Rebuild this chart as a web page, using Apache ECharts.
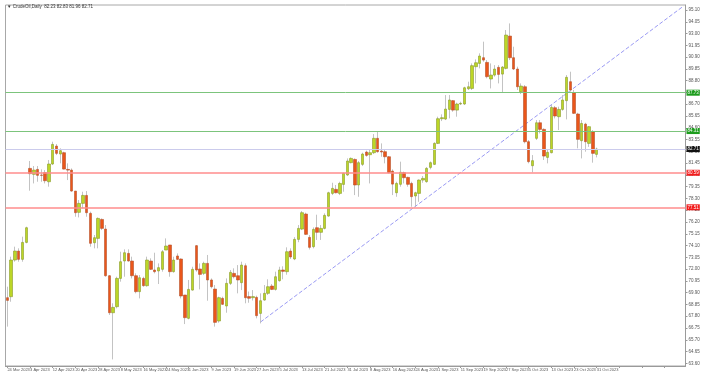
<!DOCTYPE html>
<html>
<head>
<meta charset="utf-8">
<script src="https://cdn.jsdelivr.net/npm/echarts@6/dist/echarts.min.js"></script>
<style>
html,body{margin:0;padding:0;background:#fff;}
#c{width:708px;height:373px;}
</style>
</head>
<body>
<div id="c"></div>
<script>
// ---- Data (CrudeOil, Daily) ----
const firstDay = '2023-03-24';
const lastDay = '2023-10-31';
const skippedDays = ['2023-04-07'];
const extraSlots = 23; // empty space right of last bar (chart shift)

const opens = [69.45,69.54,72.81,73.61,72.87,74.38,80.98,80.45,80.89,80.39,80.60,79.79,81.37,82.97,82.26,82.38,80.89,80.83,78.96,77.06,
77.86,78.57,76.97,74.35,74.74,76.43,75.57,71.41,68.11,68.65,71.17,72.72,73.40,72.72,71.41,69.99,71.17,70.52,72.72,71.92,
71.83,71.98,73.70,74.15,71.77,73.17,72.90,69.69,67.61,70.13,74.09,72.01,71.62,72.51,71.03,70.22,67.37,69.39,68.71,70.73,
71.62,71.41,70.79,72.30,69.55,69.45,69.48,68.05,69.24,69.84,70.49,70.19,70.97,71.92,71.77,73.61,72.90,74.65,75.57,76.91,
74.83,74.00,75.69,75.28,75.63,76.73,78.75,79.11,78.75,79.55,80.39,81.49,81.78,79.50,81.34,82.44,82.20,82.38,83.66,82.53,
82.47,82.02,80.74,78.81,79.56,80.60,80.18,79.64,78.52,78.75,79.94,79.80,81.07,81.34,83.21,85.41,85.38,86.24,87.02,86.18,
86.72,86.72,88.08,88.11,90.05,90.34,90.85,90.43,88.95,89.30,89.99,89.39,89.90,92.78,90.85,89.84,87.82,88.26,83.36,81.22,
83.66,85.05,84.46,81.96,82.38,86.39,85.59,86.24,87.02,88.71,87.73,85.83,83.45,84.93,83.21,84.25,82.23];
const closes = [69.21,72.81,73.61,72.87,74.38,75.69,80.51,80.83,80.36,80.36,79.88,81.37,83.12,82.32,82.56,80.92,80.83,78.96,77.03,77.86,
78.57,77.03,74.30,74.80,76.52,75.63,71.41,68.11,68.59,71.17,72.66,73.46,72.72,71.41,69.99,71.23,70.52,72.81,71.98,71.77,
72.13,73.55,74.06,71.77,72.81,72.87,69.60,67.67,70.19,71.98,71.92,71.53,72.51,71.03,70.43,67.25,69.45,68.86,70.73,71.71,
71.32,71.03,72.36,69.45,69.40,69.55,67.85,69.18,69.84,70.43,70.19,71.32,71.92,71.80,73.55,73.08,74.65,75.63,77.03,75.10,
73.94,75.54,75.28,75.63,76.79,78.81,79.20,78.81,79.64,80.54,81.64,81.87,79.50,81.49,82.26,82.14,82.38,83.66,82.47,82.44,
82.02,80.60,79.58,79.64,80.63,80.15,79.56,78.46,78.81,79.94,80.09,80.98,81.49,83.21,85.41,85.50,86.27,87.08,86.18,86.72,
86.78,88.17,88.26,90.14,90.40,91.00,90.64,89.16,89.30,89.84,89.36,90.02,92.87,90.85,89.84,88.26,88.32,83.36,81.58,81.67,
85.05,84.46,82.08,82.41,86.42,85.65,86.24,87.08,89.10,87.97,85.89,83.57,84.99,83.36,84.70,82.32,82.71];
const lows = [66.87,69.09,72.66,72.66,72.66,74.30,78.99,79.64,79.79,79.79,79.64,79.35,81.28,82.17,81.43,80.89,79.94,78.90,76.67,76.61,
77.42,76.67,74.00,73.85,73.85,75.48,71.32,67.91,63.95,68.50,70.88,71.32,72.66,71.17,69.84,69.39,70.43,70.43,71.92,71.62,
70.67,71.77,73.70,71.32,71.68,72.81,69.39,67.10,67.52,70.08,71.77,70.19,71.47,69.18,70.28,66.87,67.22,68.80,68.11,70.58,
71.17,69.84,70.13,68.95,69.00,69.20,67.61,67.16,69.18,69.69,70.13,70.08,70.88,71.09,71.50,72.90,72.80,74.40,75.48,75.04,
73.75,73.85,74.60,74.60,75.54,76.67,78.60,78.75,78.60,78.90,80.30,81.43,78.60,78.45,81.19,82.02,79.64,82.26,82.38,82.02,
81.43,80.54,78.60,78.45,79.35,79.64,79.35,77.56,77.56,78.00,79.70,79.70,80.90,81.28,83.15,85.20,85.29,85.44,86.03,85.59,
86.63,86.63,87.97,87.97,88.56,89.90,90.49,89.01,88.11,89.16,88.56,87.73,89.81,90.64,89.75,87.97,87.61,83.21,81.43,80.63,
83.51,84.10,81.73,81.43,82.32,85.44,84.40,86.12,85.35,87.82,85.83,82.77,81.87,82.47,82.90,81.49,81.96];
const highs = [70.43,73.11,74.00,73.85,74.89,75.78,81.64,81.19,81.19,80.89,80.83,81.73,83.36,83.15,82.77,82.47,81.43,80.98,78.96,78.16,
78.90,78.96,77.12,75.04,76.61,76.52,75.93,71.47,68.95,71.32,73.55,73.76,73.76,73.11,71.62,71.47,71.32,73.11,72.96,73.46,
72.51,73.70,74.74,74.15,73.11,73.40,72.96,69.69,71.03,72.21,74.15,72.51,72.66,73.26,71.17,70.58,69.54,69.54,71.17,71.92,
72.07,72.36,72.66,72.51,70.00,70.13,69.63,69.84,70.58,71.09,70.67,71.77,72.21,72.25,73.94,73.85,74.85,75.93,77.18,77.03,
75.04,75.72,76.85,75.93,76.97,78.90,79.70,79.50,79.79,80.60,81.87,81.96,81.87,81.64,82.38,82.56,82.62,84.04,84.25,83.21,
82.62,82.08,80.89,79.79,81.58,80.69,80.24,79.79,78.90,80.00,80.30,81.10,81.60,83.31,85.59,85.80,87.52,87.52,87.08,86.84,
86.93,88.26,88.71,90.34,90.70,91.24,92.28,90.64,90.34,90.19,90.19,90.11,93.32,93.91,91.83,90.05,88.56,88.41,83.51,82.17,
85.29,85.29,84.55,82.62,86.63,86.54,86.48,87.52,89.30,89.60,87.97,85.94,85.29,85.05,84.76,84.40,82.83];

const yTickLabels = ['63.60','64.65','65.70','66.75','67.80','68.85','69.90','70.95','72.00','73.05','74.10',
'75.15','76.20','77.25','78.30','79.35','80.40','81.45','82.50','83.55','84.60','85.65','86.70','87.75',
'88.80','89.85','90.90','91.95','93.00','94.05','95.10'];

const levelValues = [87.73, 84.31, 82.71, 80.59, 77.51];
const levelLineColors = ['#7cc47c', '#7cc47c', '#cbcbec', '#ff8c8c', '#ff8c8c'];
const levelBoxColors = ['#1c9c1c', '#1c9c1c', '#111111', '#f21c1c', '#f21c1c'];
const levelWidths = [1, 1, 1.2, 1.5, 1.5];

const trendStart = [67, 67.28];
const trendEnd = [179, 95.46];

const titleText = 'CrudeOil,Daily  82.23 82.83 81.96 82.71';

// ---- build categories ----
const MONTHS = ['Jan','Feb','Mar','Apr','May','Jun','Jul','Aug','Sep','Oct','Nov','Dec'];
const categories = [];
(function(){
  const d = new Date(firstDay + 'T00:00:00Z');
  const end = new Date(lastDay + 'T00:00:00Z');
  while (d <= end) {
    const wd = d.getUTCDay();
    const iso = d.toISOString().slice(0,10);
    if (wd !== 0 && wd !== 6 && skippedDays.indexOf(iso) < 0) {
      categories.push(d.getUTCDate() + ' ' + MONTHS[d.getUTCMonth()] + ' ' + d.getUTCFullYear());
    }
    d.setUTCDate(d.getUTCDate() + 1);
  }
  for (let k = 0; k < extraSlots; k++) categories.push('');
})();

// wicks: full range; bodies: open/close only
const wickData = opens.map((o, i) => [o, closes[i], lows[i], highs[i]]);
const bodyData = opens.map((o, i) => [o, closes[i], Math.min(o, closes[i]), Math.max(o, closes[i])]);
const trendData = categories.map(() => null);
trendData[trendStart[0]] = trendStart[1];
trendData[trendEnd[0]] = trendEnd[1];

const chart = echarts.init(document.getElementById('c'), null, {renderer: 'canvas'});
const FONT = 'Liberation Sans';

chart.setOption({
  animation: false,
  backgroundColor: '#ffffff',
  textStyle: {fontFamily: FONT},
  graphic: [{
    type: 'text', left: 7, top: 4,
    style: {text: '\u25BC ' + titleText, fontSize: 4.5, fill: '#333', fontFamily: FONT}
  }],
  grid: {left: 5.5, right: 22.5, top: 5, bottom: 7, show: true, borderColor: '#a8a8a8', borderWidth: 1},
  xAxis: {
    type: 'category',
    data: categories,
    boundaryGap: true,
    axisLine: {show: true, lineStyle: {color: '#9a9a9a'}},
    axisTick: {show: true, interval: 5, alignWithLabel: true, length: 2, lineStyle: {color: '#9a9a9a'}},
    axisLabel: {interval: 5, showMinLabel: true, hideOverlap: false, fontSize: 4, color: '#555', margin: 2, align: 'left', fontFamily: FONT},
    splitLine: {show: false}
  },
  yAxis: {
    type: 'value',
    position: 'right',
    min: 63.36, max: 95.55,
    scale: true,
    axisLine: {show: true, lineStyle: {color: '#9a9a9a'}},
    axisTick: {show: true, length: 2, customValues: yTickLabels.map(Number), lineStyle: {color: '#9a9a9a'}},
    axisLabel: {customValues: yTickLabels.map(Number), formatter: v => v.toFixed(2), fontSize: 4.5, color: '#555', margin: 3, fontFamily: FONT},
    splitLine: {show: false}
  },
  series: [
    {
      type: 'candlestick',
      data: wickData,
      barWidth: 1,
      silent: true,
      itemStyle: {
        color: '#b4b4b4', color0: '#b4b4b4',
        borderColor: '#b4b4b4', borderColor0: '#b4b4b4', borderWidth: 0.8
      },
      z: 2
    },
    {
      type: 'candlestick',
      data: bodyData,
      barWidth: 3,
      itemStyle: {
        color: '#bcd626', color0: '#ea561a',
        borderColor: '#8a9a2a', borderColor0: '#b5532c', borderWidth: 0.6
      },
      markLine: {
        silent: true,
        symbol: ['none', 'none'],
        animation: false,
        data: levelValues.map((v, k) => ({
          yAxis: v,
          lineStyle: {color: levelLineColors[k], width: levelWidths[k], type: 'solid'},
          label: {
            show: true, position: 'end', distance: 1,
            formatter: v.toFixed(2), color: '#fff', fontSize: 4.5,
            backgroundColor: levelBoxColors[k], padding: [0.5, 1], fontFamily: FONT
          }
        }))
      },
      z: 3
    },
    {
      type: 'line',
      data: trendData,
      connectNulls: true,
      symbol: 'none',
      silent: true,
      lineStyle: {color: '#9a9af4', width: 1, type: [4, 2]},
      z: 1
    }
  ]
});
</script>
</body>
</html>
